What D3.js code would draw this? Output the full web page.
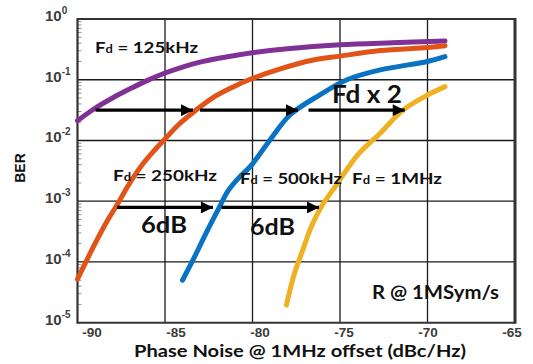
<!DOCTYPE html>
<html>
<head>
<meta charset="utf-8">
<script src="https://cdn.jsdelivr.net/npm/d3@7"></script>
<style>
  html, body { margin: 0; padding: 0; background: #fff; }
  svg { display: block; }
</style>
</head>
<body>
<svg id="chart" width="533" height="364"></svg>
<script>
// ---------- data ----------
const xTicks = [-90, -85, -80, -75, -70, -65];
const yExponents = [0, -1, -2, -3, -4, -5];

const pn125 = [-90, -89, -88, -87, -86, -85, -84, -83, -82, -81, -80, -78, -75, -72, -69];
const ber125 = [0.0211, 0.0339, 0.0501, 0.0708, 0.0977, 0.129, 0.162, 0.195, 0.224, 0.251, 0.279, 0.324, 0.376, 0.407, 0.434];

const pn250 = [-90, -89.0, -88.27, -87.7, -87.3, -86.9, -86.3, -85.6, -85.05, -84.2, -83.2, -82.3, -81.2, -80.2, -78.5, -76.6, -75, -72.7, -70, -69];
const ber250 = [5.2e-5, 2.0e-4, 4.9e-4, 9.1e-4, 1.45e-3, 2.25e-3, 4.0e-3, 6.9e-3, 1.02e-2, 1.85e-2, 3.2e-2, 5.0e-2, 7.4e-2, 0.1, 0.148, 0.209, 0.245, 0.302, 0.339, 0.363];

const pn500 = [-84.0, -83.32, -82.66, -81.9, -81.4, -80.8, -80.1, -79.0, -77.86, -76.17, -74.6, -72.7, -70, -69];
const ber500 = [5.0e-5, 1.2e-4, 2.95e-4, 7.9e-4, 1.48e-3, 2.4e-3, 3.8e-3, 1.02e-2, 2.63e-2, 5.6e-2, 0.1, 0.145, 0.2, 0.24];

const pn1M = [-78.06, -77.6, -77.1, -76.64, -76.07, -75.2, -74.0, -72.7, -71.4, -70.0, -69.0];
const ber1M = [1.95e-5, 6.5e-5, 1.66e-4, 3.8e-4, 8.1e-4, 1.86e-3, 5.75e-3, 1.32e-2, 3.16e-2, 5.6e-2, 7.7e-2];

const seriesNames = ["125kHz", "250kHz", "500kHz", "1MHz"];
const seriesColors = ["#7f3196", "#e05418", "#0a72c2", "#efb021"];

// arrows (phase noise start/end, BER level)
const arrowX1 = [-88.97, -83.0, -76.8, -87.74, -81.77];
const arrowX2 = [-83.4, -77.4, -71.3, -82.26, -76.2];
const arrowBer = [0.0316, 0.0316, 0.0316, 7.9e-4, 7.9e-4];

// ---------- layout ----------
const svg = d3.select("#chart");
const L = 77.5, R = 515, T = 19, B = 322.7;

const x = d3.scaleLinear().domain([-90, -65]).range([L, R]);
const y = d3.scaleLog().domain([1e-5, 1]).range([B, T]);
const xLabel = d3.scaleLinear().domain([-90, -65]).range([92, 512]);

// minor ticks on left axis
const minor = [];
for (let e = -5; e < 0; e++) for (let m = 2; m <= 9; m++) minor.push(m * Math.pow(10, e));
svg.append("g").selectAll("line").data(minor).join("line")
  .attr("x1", L).attr("x2", L + 4)
  .attr("y1", d => y(d)).attr("y2", d => y(d))
  .attr("stroke", "#777").attr("stroke-width", 0.8);

// grid lines
svg.append("g").selectAll("line").data(yExponents.slice(1, -1)).join("line")
  .attr("x1", L).attr("x2", R)
  .attr("y1", d => y(Math.pow(10, d))).attr("y2", d => y(Math.pow(10, d)))
  .attr("stroke", "#1a1a1a").attr("stroke-width", 1.3);
svg.append("g").selectAll("line").data(xTicks.slice(1, -1)).join("line")
  .attr("x1", d => x(d)).attr("x2", d => x(d))
  .attr("y1", T).attr("y2", B)
  .attr("stroke", "#1a1a1a").attr("stroke-width", 1.3);

// frame
svg.append("line").attr("x1", L).attr("x2", R).attr("y1", T).attr("y2", T)
  .attr("stroke", "#333").attr("stroke-width", 2);
svg.append("line").attr("x1", R).attr("x2", R).attr("y1", T - 1).attr("y2", B + 1)
  .attr("stroke", "#333").attr("stroke-width", 3);
svg.append("line").attr("x1", L).attr("x2", R).attr("y1", B).attr("y2", B)
  .attr("stroke", "#333").attr("stroke-width", 2);
svg.append("line").attr("x1", L).attr("x2", L).attr("y1", T - 1).attr("y2", B + 1)
  .attr("stroke", "#333").attr("stroke-width", 2.2);

// y tick labels
const yl = svg.append("g").selectAll("text").data(yExponents).join("text")
  .attr("x", 45).attr("y", d => y(Math.pow(10, d)) + 2)
  .attr("font-family", "Liberation Sans, Arial, sans-serif")
  .attr("font-weight", "bold").attr("font-size", 15).attr("fill", "#3c3c3c");
yl.append("tspan").text("10");
yl.append("tspan").attr("dy", -7).attr("font-size", 10).text(d => d === 0 ? "0" : "-" + Math.abs(d));

// x tick labels
svg.append("g").selectAll("text").data(xTicks).join("text")
  .attr("x", d => xLabel(d)).attr("y", 337)
  .attr("text-anchor", "middle")
  .attr("font-family", "Liberation Sans, Arial, sans-serif")
  .attr("font-weight", "bold").attr("font-size", 13.5).attr("fill", "#3c3c3c")
  .text(d => d);

// axis titles
svg.append("text").attr("x", 134).attr("y", 357)
  .attr("font-family", "Lato, sans-serif").attr("font-weight", "bold")
  .attr("font-size", 17.5).attr("fill", "#111")
  .attr("textLength", 332).attr("lengthAdjust", "spacingAndGlyphs")
  .text("Phase Noise @ 1MHz offset (dBc/Hz)");
svg.append("text").attr("transform", "translate(25,168) rotate(-90)")
  .attr("text-anchor", "middle")
  .attr("font-family", "Liberation Sans, Arial, sans-serif").attr("font-weight", "bold")
  .attr("font-size", 14).attr("fill", "#111").text("BER");

// curves
const line = d3.line().x(d => x(d[0])).y(d => y(d[1])).curve(d3.curveCatmullRom.alpha(0.5));
const series = [
  d3.zip(pn125, ber125), d3.zip(pn250, ber250), d3.zip(pn500, ber500), d3.zip(pn1M, ber1M)
];
svg.append("g").selectAll("path").data(series).join("path")
  .attr("d", line).attr("fill", "none")
  .attr("stroke", (d, i) => seriesColors[i]).attr("stroke-width", 5)
  .attr("stroke-linecap", "round").attr("stroke-linejoin", "round");

// arrows
svg.append("defs").append("marker")
  .attr("id", "ah").attr("viewBox", "0 0 10 10").attr("refX", 10).attr("refY", 5)
  .attr("markerUnits", "userSpaceOnUse").attr("markerWidth", 14).attr("markerHeight", 12)
  .attr("orient", "auto")
  .append("path").attr("d", "M0,0 L10,5 L0,10 Z").attr("fill", "#000");
svg.append("g").selectAll("line").data(arrowX1.map((v, i) => i)).join("line")
  .attr("x1", i => x(arrowX1[i])).attr("x2", i => x(arrowX2[i]))
  .attr("y1", i => y(arrowBer[i])).attr("y2", i => y(arrowBer[i]))
  .attr("stroke", "#000").attr("stroke-width", 3.2)
  .attr("marker-end", "url(#ah)");

// annotations
const annFont = "Lato, sans-serif";
function fdLabel(px, py, rest, w) {
  const t = svg.append("text").attr("x", px).attr("y", py)
    .attr("font-family", annFont).attr("font-weight", "bold")
    .attr("font-size", 16).attr("fill", "#111")
    .attr("textLength", w).attr("lengthAdjust", "spacingAndGlyphs");
  t.append("tspan").text("F");
  t.append("tspan").attr("font-size", 11).text("d");
  t.append("tspan").text(" = " + rest);
}
fdLabel(95, 53, seriesNames[0], 103);
fdLabel(113, 181, seriesNames[1], 104);
fdLabel(240, 184, seriesNames[2], 102);
fdLabel(352, 184, seriesNames[3], 90);

function bigText(px, py, size, w, s) {
  svg.append("text").attr("x", px).attr("y", py)
    .attr("font-family", annFont).attr("font-weight", "bold")
    .attr("font-size", size).attr("fill", "#111")
    .attr("textLength", w).attr("lengthAdjust", "spacingAndGlyphs").text(s);
}
bigText(332, 103, 24, 70, "Fd x 2");
bigText(141, 233, 23, 46, "6dB");
bigText(250, 235, 23, 45, "6dB");
bigText(372, 299, 19, 127, "R @ 1MSym/s");
</script>
</body>
</html>
